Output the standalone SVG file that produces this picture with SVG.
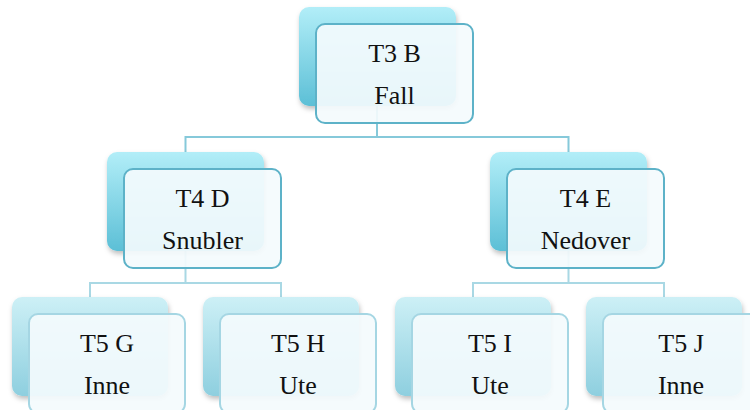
<svg xmlns="http://www.w3.org/2000/svg" width="750" height="410" viewBox="0 0 750 410">
<defs>
<linearGradient id="g1" x1="0" y1="0" x2="0" y2="1">
<stop offset="0" stop-color="#b2eef8"/>
<stop offset="1" stop-color="#5cbfd6"/>
</linearGradient>
<linearGradient id="g3" x1="0" y1="0" x2="0" y2="1">
<stop offset="0" stop-color="#cdf0f6"/>
<stop offset="1" stop-color="#8ecfdf"/>
</linearGradient>
<filter id="sh" x="-10%" y="-10%" width="125%" height="130%">
<feDropShadow dx="1" dy="3" stdDeviation="2.5" flood-color="#000" flood-opacity="0.25"/>
</filter>
</defs>
<style>
.b1{fill:url(#g1);filter:url(#sh)}
.b3{fill:url(#g3);filter:url(#sh)}
.f1{fill:#f4fbfd;fill-opacity:0.92;stroke:#5db2c8;stroke-width:2}
.f3{fill:#f4fbfd;fill-opacity:0.92;stroke:#a5d6e3;stroke-width:2}
.c1{fill:none;stroke:#86c9da;stroke-width:2}
.c3{fill:none;stroke:#a9d8e4;stroke-width:2}
text{font-family:"Liberation Serif","Times New Roman",serif;font-size:26px;fill:#111;text-anchor:middle}
</style>
<g id="connectors">
<path class="c1" d="M377 106V137M185.5 152V137H568.5V152"/>
<path class="c3" d="M185.5 251V283M90 297V283H281V297M568.5 251V283M473 297V283H664V297"/>
</g>
<g id="n-t3b">
<rect class="b1" x="299" y="7" width="157" height="99" rx="10"/>
<rect class="f1" x="316" y="24" width="157" height="99" rx="9"/>
<text x="394.5" y="62">T3 B</text>
<text x="394.5" y="104">Fall</text>
</g>
<g id="n-t4d">
<rect class="b1" x="107" y="152" width="157" height="99" rx="10"/>
<rect class="f1" x="124" y="169" width="157" height="99" rx="9"/>
<text x="202.5" y="207">T4 D</text>
<text x="202.5" y="249">Snubler</text>
</g>
<g id="n-t4e">
<rect class="b1" x="490" y="152" width="157" height="99" rx="10"/>
<rect class="f1" x="507" y="169" width="157" height="99" rx="9"/>
<text x="585.5" y="207">T4 E</text>
<text x="585.5" y="249">Nedover</text>
</g>
<g id="n-t5g">
<rect class="b3" x="12" y="297" width="156" height="99" rx="10"/>
<rect class="f3" x="29" y="314" width="156" height="99" rx="9"/>
<text x="107" y="352">T5 G</text>
<text x="107" y="394">Inne</text>
</g>
<g id="n-t5h">
<rect class="b3" x="203" y="297" width="156" height="99" rx="10"/>
<rect class="f3" x="220" y="314" width="156" height="99" rx="9"/>
<text x="298" y="352">T5 H</text>
<text x="298" y="394">Ute</text>
</g>
<g id="n-t5i">
<rect class="b3" x="395" y="297" width="156" height="99" rx="10"/>
<rect class="f3" x="412" y="314" width="156" height="99" rx="9"/>
<text x="490" y="352">T5 I</text>
<text x="490" y="394">Ute</text>
</g>
<g id="n-t5j">
<rect class="b3" x="586" y="297" width="156" height="99" rx="10"/>
<rect class="f3" x="603" y="314" width="156" height="99" rx="9"/>
<text x="681" y="352">T5 J</text>
<text x="681" y="394">Inne</text>
</g>
</svg>
